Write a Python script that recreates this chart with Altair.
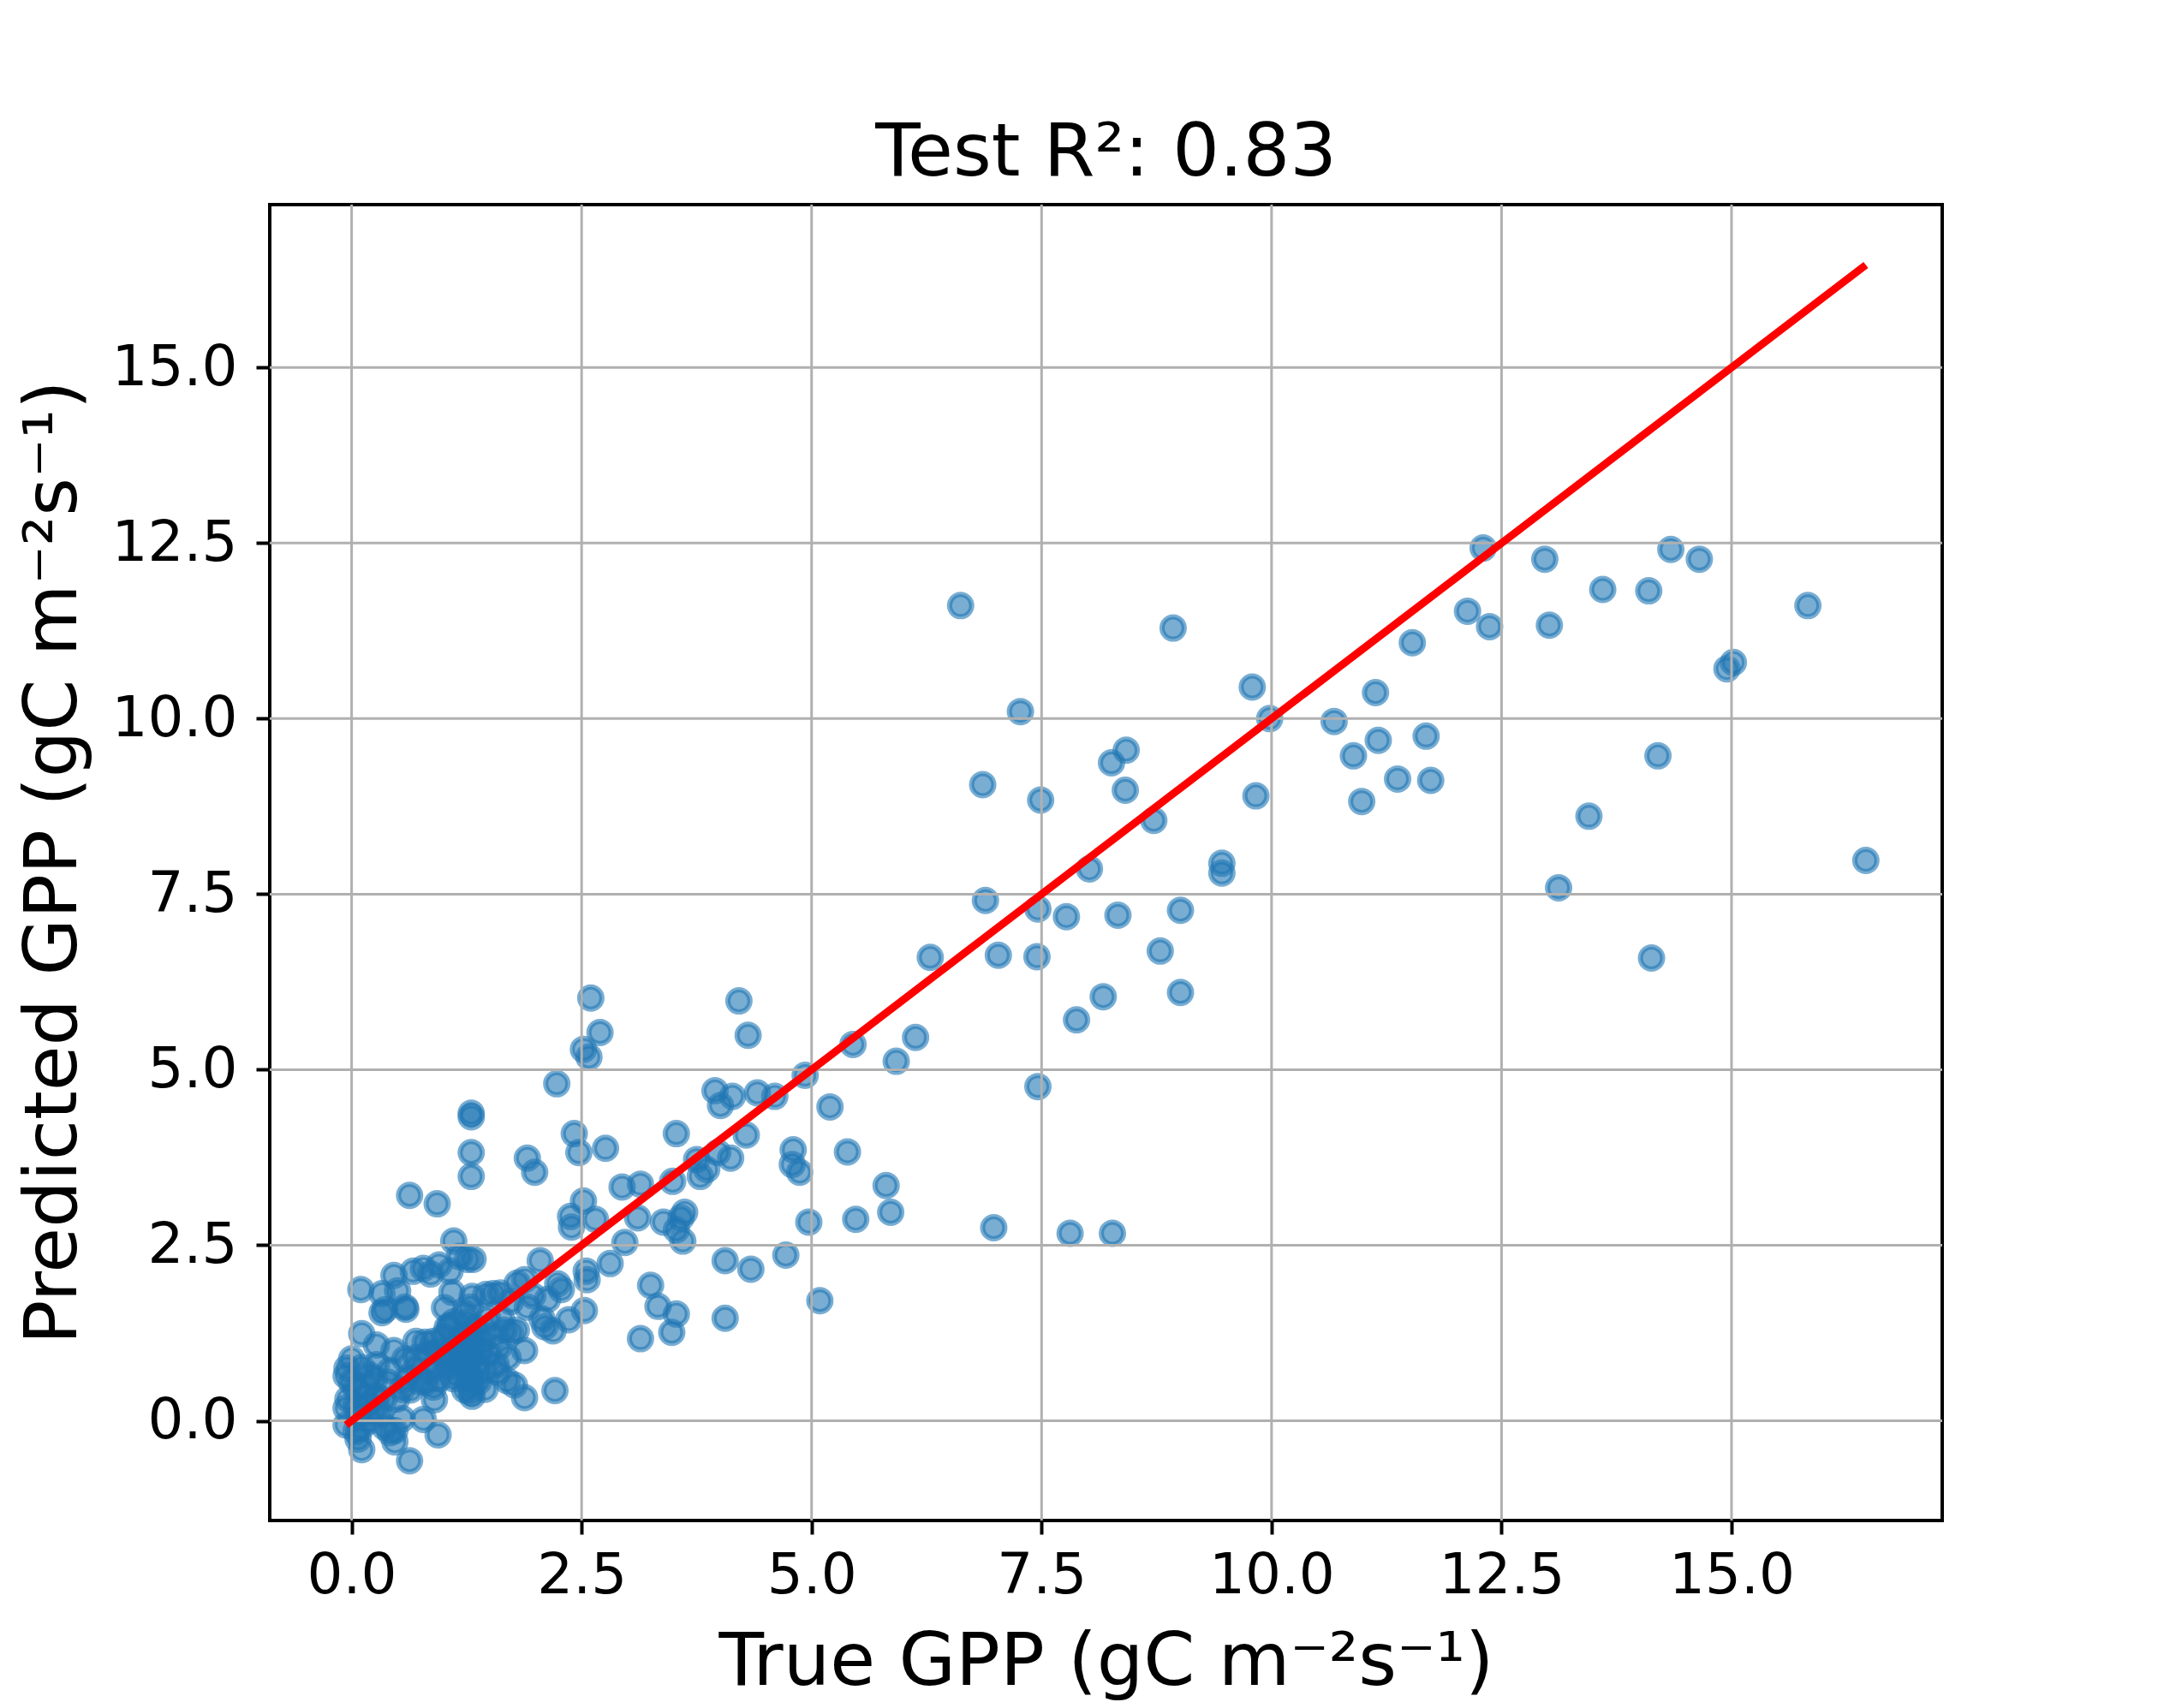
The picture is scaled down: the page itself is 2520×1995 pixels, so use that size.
import altair as alt
import pandas as pd

# True GPP (x) and predicted GPP (y)
true_gpp = [
    # low / dense region
    2.23, 1.30, 1.30, 1.30, 1.30, 0.63, 0.93, 1.91, 1.99, 2.42, 2.47, 2.76,
    2.52, 2.38, 2.39, 2.65, 1.11,
    0.10, 0.46, 0.33, 0.33, 0.59, 0.50, 0.67, 0.78, 0.86, 0.95, 1.07, 1.26, 1.32, 1.17,
    1.01, 1.09, 1.07, 1.31, 1.54, 1.88, 2.05, 2.24, 2.13, 2.28, 2.55, 2.56, 2.81, 2.53,
    2.36, 2.10, 2.19,
    1.88, 1.73, 1.59, 1.69, 1.77, 1.88, 2.21, 1.31, 0.90, 0.78, 0.94, 0.63, 0.47, 0.47,
    0.11, 0.07, -0.06, -0.06, -0.05, 0.11, 0.27, 0.46, 0.80,
    0.36, 0.58, 0.00, -0.06, 0.11, 0.27, 0.42, 0.58, 0.70, 0.89, 1.04, 1.11, 1.23, 1.29,
    1.35, 1.29, 1.29, 1.29, 1.29, 1.23, 1.11, 0.89, 0.73, 0.64, 0.49, 0.27, 0.18, -0.04,
    0.08, 0.42, 0.55, 0.36, 1.54, 1.66, 1.79, 1.57, 2.07, 1.04, 1.14, 0.83, 0.92, 1.04,
    1.17, 1.48, 1.45, 1.38, 1.42, 1.48, 1.63, 1.73, 1.91, 1.97,
    1.30, 1.27, 1.32, 1.30, 1.33, 1.25, 1.30, 0.15, 0.05, 0.20, 0.10, 0.30, 0.25,
    1.46, 1.62, 1.80, 2.60, 2.70, 2.52, 2.58,
    1.00, 1.05, 1.10, 1.15, 1.20, 1.20, 1.25, 1.35, 1.40, 1.38, 1.45, 0.60, 0.70,
    0.80, 0.85, 0.95, 0.55, 0.05, 0.15, 0.25, 0.35, 0.00, 0.20, 0.40, 0.70, 0.95,
    1.60, 1.70, 0.05,
    # middle region
    4.21, 4.31, 4.93, 5.20, 5.45, 5.92, 6.13, 6.29,
    3.95, 4.01, 4.14, 4.41, 4.60, 3.53, 4.29, 4.12, 3.98, 3.75, 3.86, 3.79, 3.49, 3.14,
    2.94, 4.80, 4.79, 4.87, 5.39, 5.81, 5.86, 5.48, 4.97, 3.62, 3.58, 3.53, 3.39, 3.11,
    3.60, 2.97, 4.06, 4.34, 4.72, 5.09, 3.25, 3.33, 3.53, 3.48, 3.14, 4.06,
    # upper region
    12.30, 12.97, 14.34, 14.65, 13.60, 14.10, 15.83, 6.62, 8.93, 12.13, 12.37, 13.02,
    11.53, 15.02, 14.95, 9.79, 11.13, 7.27, 9.98, 10.68, 8.42, 8.26, 11.16, 11.68,
    10.89, 14.20, 8.41, 6.86, 11.37, 11.73, 9.83, 7.49, 10.98, 8.72, 13.45, 16.46,
    9.46, 9.46, 8.02, 13.12, 6.89, 9.01, 7.46, 7.77, 8.33, 7.03, 7.45, 8.79, 14.13,
    8.17, 9.01, 7.88, 7.46, 6.98, 7.81, 8.27,
]
pred_gpp = [
    4.80, 4.33, 4.38, 3.82, 3.48, 3.21, 3.09, 3.74, 3.54, 4.09, 3.82, 3.88,
    3.13, 2.91, 2.76, 2.87, 2.56,
    1.87, 2.07, 1.81, 1.54, 1.59, 1.85, 2.13, 2.17, 2.09, 2.22, 2.13, 2.30, 2.30, 2.34,
    1.61, 1.83, 1.36, 1.77, 1.81, 2.01, 2.28, 1.95, 1.73, 1.87, 2.13, 2.01, 2.24, 1.57,
    1.44, 1.34, 1.28,
    1.00, 1.26, 0.69, 0.57, 0.51, 0.33, 0.43, 0.35, 0.30, 0.02, -0.20, -0.57, -0.30, -0.14,
    -0.41, -0.26, -0.06, 0.18, 0.75, 1.24, 1.08, 1.00, 1.12,
    1.58, 1.62, 0.88, 0.64, 0.76, 0.80, 0.72, 0.88, 1.13, 1.13, 1.33, 1.41, 1.53, 1.62,
    1.33, 1.13, 0.88, 0.64, 0.48, 0.44, 0.60, 0.48, 0.56, 0.44, 0.31, 0.35, 0.23, 0.31,
    0.07, -0.17, 0.03, -0.09, 1.21, 1.29, 1.29, 0.80, 1.45, 0.92, 1.05, 0.96, 0.80, 0.76,
    0.80, 0.96, 0.72, 0.56, 1.13, 1.45, 1.45, 1.70, 1.62, 1.78,
    1.00, 0.75, 0.55, 1.25, 0.95, 1.40, 0.40, 0.50, 0.45, 0.00, -0.10, 0.10, 0.60,
    1.80, 1.82, 1.96, 6.02, 5.53, 5.29, 5.18,
    1.20, 1.00, 0.85, 0.65, 0.95, 1.20, 0.60, 0.80, 1.00, 1.25, 0.45, 0.60, 0.75,
    0.55, 0.70, 0.60, 0.45, 0.20, 0.35, 0.15, 0.30, 0.55, 0.65, 0.55, 0.90, 1.00,
    1.05, 0.90, -0.15,
    5.98, 5.49, 4.92, 4.47, 5.36, 5.12, 5.46, 6.60,
    4.70, 4.49, 4.62, 4.67, 4.62, 4.09, 4.07, 3.74, 3.82, 3.72, 3.58, 3.48, 3.41, 3.37,
    3.33, 3.86, 3.65, 3.54, 3.83, 3.35, 2.97, 2.87, 2.83, 2.97, 2.89, 2.72, 2.83, 2.89,
    2.56, 2.54, 2.28, 2.16, 2.36, 1.71, 1.93, 1.63, 1.52, 1.26, 1.17, 1.46,
    12.43, 12.27, 12.41, 12.27, 11.84, 11.82, 11.61, 11.61, 11.29, 11.53, 11.31, 11.33,
    11.08, 10.80, 10.71, 10.45, 10.37, 10.10, 10.00, 9.96, 9.55, 9.37, 9.69, 9.75,
    9.47, 9.47, 8.98, 9.06, 9.14, 9.12, 8.90, 8.84, 8.82, 8.55, 8.61, 7.98,
    7.94, 7.80, 7.86, 7.59, 7.41, 7.27, 7.29, 7.18, 7.20, 6.63, 6.61, 6.69, 6.59,
    6.04, 6.10, 5.71, 4.76, 2.75, 2.67, 2.67,
]

tick_values = [0.0, 2.5, 5.0, 7.5, 10.0, 12.5, 15.0]
x_domain = [-0.89, 17.29]
y_domain = [-1.42, 17.32]

title_text = "Test R\u00b2: 0.83"
x_title = "True GPP (gC m\u207b\u00b2s\u207b\u00b9)"
y_title = "Predicted GPP (gC m\u207b\u00b2s\u207b\u00b9)"

pts = pd.DataFrame({"true": true_gpp, "pred": pred_gpp})
line_x = [min(true_gpp), max(true_gpp)]
line_df = pd.DataFrame({"true": line_x, "pred": line_x})
grid_x_df = pd.DataFrame({"true": tick_values})
grid_y_df = pd.DataFrame({"pred": tick_values})

xs = alt.Scale(domain=x_domain, nice=False, zero=False)
ys = alt.Scale(domain=y_domain, nice=False, zero=False)

FONT = "DejaVu Sans"

x_axis = alt.Axis(
    values=tick_values, format=".1f", grid=False, domain=False,
    tickSize=16, tickWidth=4, tickColor="black",
    labelFontSize=66, labelFont=FONT, labelColor="black", labelPadding=16,
    title=x_title, titleFontSize=86, titleFont=FONT, titleFontWeight="normal",
    titleColor="black", titleBaseline="alphabetic", titleY=191,
)
y_axis = alt.Axis(
    values=tick_values, format=".1f", grid=False, domain=False,
    tickSize=16, tickWidth=4, tickColor="black",
    labelFontSize=66, labelFont=FONT, labelColor="black", labelPadding=22,
    title=y_title, titleFontSize=86, titleFont=FONT, titleFontWeight="normal",
    titleColor="black", titleBaseline="alphabetic", titleX=-227, titleY=768,
    titleAngle=270,
)

points = alt.Chart(pts).mark_circle(
    size=676, color="#1f77b4", fillOpacity=0.6,
    stroke="#1f77b4", strokeOpacity=0.6, strokeWidth=6,
).encode(
    x=alt.X("true:Q", scale=xs, axis=x_axis),
    y=alt.Y("pred:Q", scale=ys, axis=y_axis),
)

grid_x = alt.Chart(grid_x_df).mark_rule(color="#b0b0b0", strokeWidth=3).encode(
    x=alt.X("true:Q", scale=xs, axis=x_axis)
)
grid_y = alt.Chart(grid_y_df).mark_rule(color="#b0b0b0", strokeWidth=3).encode(
    y=alt.Y("pred:Q", scale=ys, axis=y_axis)
)

line = alt.Chart(line_df).mark_line(color="#ff0000", strokeWidth=9).encode(
    x=alt.X("true:Q", scale=xs, axis=x_axis),
    y=alt.Y("pred:Q", scale=ys, axis=y_axis),
)

chart = alt.layer(points, grid_x, grid_y, line).properties(
    width=1953,
    height=1537,
    autosize=alt.AutoSizeParams(type="none"),
    padding={"left": 307, "top": 231, "right": 244, "bottom": 210},
    title=alt.TitleParams(
        text=title_text, fontSize=86, font=FONT, fontWeight="normal",
        color="black", anchor="middle", baseline="alphabetic", offset=31, dy=84,
    ),
).configure(
    font=FONT, background="white"
).configure_view(
    stroke="black", strokeWidth=4
)

chart.save("out.html", embed_options={"renderer": "svg", "actions": False})
